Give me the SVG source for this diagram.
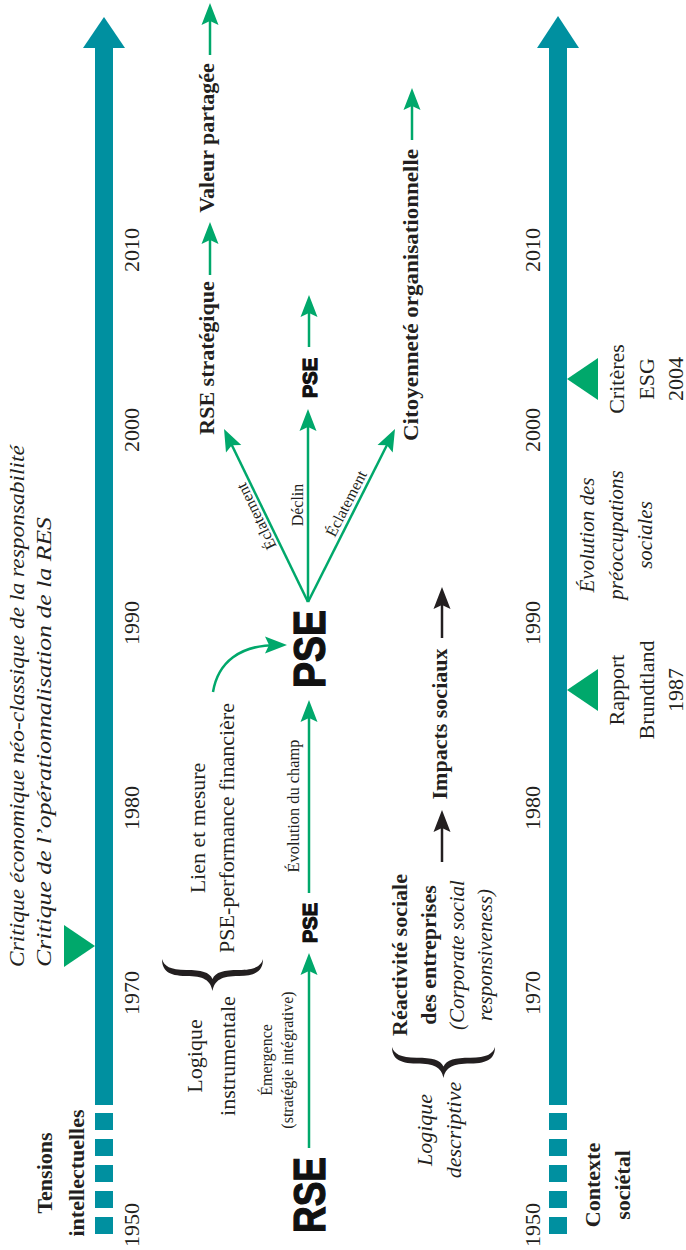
<svg xmlns="http://www.w3.org/2000/svg" width="686" height="1250" viewBox="0 0 686 1250">
<defs>
<style>
.s{font-family:"Liberation Serif","Times New Roman",serif;fill:#231F20}
.yr{font-size:22px}
.md{font-size:22px}
.sm{font-size:16px}
.it{font-size:21px;font-style:italic}
.b{font-weight:bold}
.hv{font-family:"Liberation Sans",Arial,sans-serif;font-weight:bold;fill:#111;stroke:#111;stroke-width:1.2}
.teal{fill:#0090A0}
.tri{fill:#00A86B}
.g{stroke:#00A86B;stroke-width:2.5;fill:none;marker-end:url(#ag)}
.k{stroke:#231F20;stroke-width:2.5;fill:none;marker-end:url(#ak)}
.br{fill:#231F20}
</style>
<marker id="ag" markerUnits="userSpaceOnUse" orient="auto" markerWidth="30" markerHeight="30" refX="0" refY="0" overflow="visible"><path d="M10,0 L-12,-8.5 L-8,0 L-12,8.5 Z" fill="#00A86B"/></marker>
<marker id="ak" markerUnits="userSpaceOnUse" orient="auto" markerWidth="30" markerHeight="30" refX="0" refY="0" overflow="visible"><path d="M10,0 L-12,-8.5 L-8,0 L-12,8.5 Z" fill="#231F20"/></marker>
<path id="brace" d="M0,0 C0,11 6,17 24,17 C41,17 48,21 50,32 C52,21 59,17 76,17 C94,17 100,11 100,0 C98,7 92,11 76,11 C61,11 53,13 50,20 C47,13 39,11 24,11 C8,11 2,7 0,0 Z"/>
</defs>
<rect width="686" height="1250" fill="#ffffff"/>

<g id="axis-left">
<rect class="teal" x="95" y="47" width="18" height="1058"/>
<polygon class="teal" points="83,48 125,48 104,17"/>
<rect class="teal" x="95" y="1113" width="18" height="17"/>
<rect class="teal" x="95" y="1139" width="18" height="17"/>
<rect class="teal" x="95" y="1165" width="18" height="17"/>
<rect class="teal" x="95" y="1191" width="18" height="17"/>
<rect class="teal" x="95" y="1217" width="18" height="17"/>
<g class="s yr" text-anchor="middle">
<text transform="translate(139,250) rotate(-90)">2010</text>
<text transform="translate(139,430) rotate(-90)">2000</text>
<text transform="translate(139,623) rotate(-90)">1990</text>
<text transform="translate(139,808) rotate(-90)">1980</text>
<text transform="translate(139,993) rotate(-90)">1970</text>
<text transform="translate(139,1225) rotate(-90)">1950</text>
</g>
</g>

<g id="axis-right">
<rect class="teal" x="549" y="47" width="18" height="1058"/>
<polygon class="teal" points="537,48 579,48 558,16"/>
<rect class="teal" x="549" y="1113" width="18" height="17"/>
<rect class="teal" x="549" y="1139" width="18" height="17"/>
<rect class="teal" x="549" y="1165" width="18" height="17"/>
<rect class="teal" x="549" y="1191" width="18" height="17"/>
<rect class="teal" x="549" y="1217" width="18" height="17"/>
<g class="s yr" text-anchor="middle">
<text transform="translate(540,250) rotate(-90)">2010</text>
<text transform="translate(540,430) rotate(-90)">2000</text>
<text transform="translate(540,623) rotate(-90)">1990</text>
<text transform="translate(540,808) rotate(-90)">1980</text>
<text transform="translate(540,993) rotate(-90)">1970</text>
<text transform="translate(540,1225) rotate(-90)">1950</text>
</g>
</g>

<g id="tensions-intellectuelles" class="s md b" text-anchor="middle">
<text transform="translate(52,1173) rotate(-90)">Tensions</text>
<text transform="translate(84,1173) rotate(-90)">intellectuelles</text>
</g>

<g id="critiques">
<polygon class="tri" points="64,925 64,967 95,946"/>
<g class="s it" style="font-size:22px">
<text transform="translate(24,967) rotate(-90)" textLength="522" lengthAdjust="spacingAndGlyphs">Critique économique néo-classique de la responsabilité</text>
<text transform="translate(51,967) rotate(-90)" textLength="450" lengthAdjust="spacingAndGlyphs">Critique de l’opérationnalisation de la RES</text>
</g>
</g>

<g id="contexte-societal" class="s md b" text-anchor="middle">
<text transform="translate(600,1185) rotate(-90)">Contexte</text>
<text transform="translate(630,1185) rotate(-90)">sociétal</text>
</g>

<g id="rapport-brundtland">
<polygon class="tri" points="598,669 598,711 567,690"/>
<g class="s md" text-anchor="middle">
<text transform="translate(624,690) rotate(-90)">Rapport</text>
<text transform="translate(654,690) rotate(-90)">Brundtland</text>
<text transform="translate(683,690) rotate(-90)">1987</text>
</g>
</g>

<g id="criteres-esg">
<polygon class="tri" points="598,358 598,400 567,379"/>
<g class="s md" text-anchor="middle">
<text transform="translate(624,379) rotate(-90)">Critères</text>
<text transform="translate(654,379) rotate(-90)">ESG</text>
<text transform="translate(683,379) rotate(-90)">2004</text>
</g>
</g>

<g id="evolution-preoccupations" class="s it" text-anchor="middle">
<text transform="translate(594,535) rotate(-90)">Évolution des</text>
<text transform="translate(623,535) rotate(-90)">préoccupations</text>
<text transform="translate(652,535) rotate(-90)">sociales</text>
</g>

<g id="rse">
<text class="hv" font-size="44" text-anchor="middle" transform="translate(325,1195) rotate(-90)" textLength="76" lengthAdjust="spacingAndGlyphs">RSE</text>
</g>

<g id="pse-1">
<text class="hv" font-size="21" text-anchor="middle" transform="translate(317,923) rotate(-90)" textLength="40" lengthAdjust="spacingAndGlyphs">PSE</text>
</g>

<g id="pse-main">
<text class="hv" font-size="44" text-anchor="middle" transform="translate(325,649) rotate(-90)" textLength="78" lengthAdjust="spacingAndGlyphs">PSE</text>
</g>

<g id="pse-2">
<text class="hv" font-size="21" text-anchor="middle" transform="translate(317,378) rotate(-90)" textLength="40" lengthAdjust="spacingAndGlyphs">PSE</text>
</g>

<g id="logique-instrumentale">
<use href="#brace" class="br" transform="translate(162,959) scale(1.01,1)"/>
<g class="s md" text-anchor="middle">
<text transform="translate(202,1056) rotate(-90)">Logique</text>
<text transform="translate(235,1056) rotate(-90)">instrumentale</text>
<text transform="translate(205,828) rotate(-90)">Lien et mesure</text>
<text transform="translate(234,828) rotate(-90)">PSE-performance financière</text>
</g>
</g>

<g id="rse-strategique">
<text class="s md b" text-anchor="middle" transform="translate(214,358) rotate(-90)">RSE stratégique</text>
</g>
<g id="valeur-partagee">
<text class="s md b" text-anchor="middle" transform="translate(214,138) rotate(-90)">Valeur partagée</text>
</g>
<g id="citoyennete">
<text class="s md b" text-anchor="middle" transform="translate(418,295) rotate(-90)" textLength="292" lengthAdjust="spacingAndGlyphs">Citoyenneté organisationnelle</text>
</g>

<g id="logique-descriptive">
<use href="#brace" class="br" transform="translate(392,1047) scale(1.03,0.97)"/>
<g class="s it" text-anchor="middle" style="font-size:22px">
<text transform="translate(432,1130) rotate(-90)">Logique</text>
<text transform="translate(461,1130) rotate(-90)">descriptive</text>
</g>
</g>

<g id="reactivite-sociale" text-anchor="middle">
<text class="s md b" transform="translate(407,955) rotate(-90)">Réactivité sociale</text>
<text class="s md b" transform="translate(436,955) rotate(-90)">des entreprises</text>
<text class="s it" transform="translate(464,955) rotate(-90)">(Corporate social</text>
<text class="s it" transform="translate(492,955) rotate(-90)">responsiveness)</text>
</g>

<g id="impacts-sociaux">
<text class="s md b" text-anchor="middle" transform="translate(447,724) rotate(-90)">Impacts sociaux</text>
</g>

<g id="connectors">
<line class="g" x1="309" y1="1148" x2="309" y2="963"/>
<line class="g" x1="309" y1="893" x2="309" y2="710"/>
<path class="g" d="M213,692 C218,662 240,645 277,645"/>
<line class="g" x1="308" y1="602" x2="228.4" y2="438"/>
<line class="g" x1="308" y1="602" x2="308" y2="419"/>
<line class="g" x1="308" y1="602" x2="390.5" y2="438"/>
<line class="g" x1="309" y1="347" x2="309" y2="305"/>
<line class="g" x1="210" y1="275" x2="210" y2="232"/>
<line class="g" x1="210" y1="55" x2="210" y2="13"/>
<line class="g" x1="412" y1="140" x2="412" y2="98"/>
<line class="k" x1="442" y1="862" x2="442" y2="820"/>
<line class="k" x1="442" y1="638" x2="442" y2="597"/>
<g class="s sm" text-anchor="middle">
<text transform="translate(272,1060) rotate(-90)">Émergence</text>
<text transform="translate(293,1060) rotate(-90)">(stratégie intégrative)</text>
<text transform="translate(299,806) rotate(-90)" textLength="133" lengthAdjust="spacingAndGlyphs">Évolution du champ</text>
<text transform="translate(261,514) rotate(-116)">Éclatement</text>
<text transform="translate(303,505) rotate(-90)">Déclin</text>
<text transform="translate(351,506) rotate(-63)">Éclatement</text>
</g>
</g>
</svg>
